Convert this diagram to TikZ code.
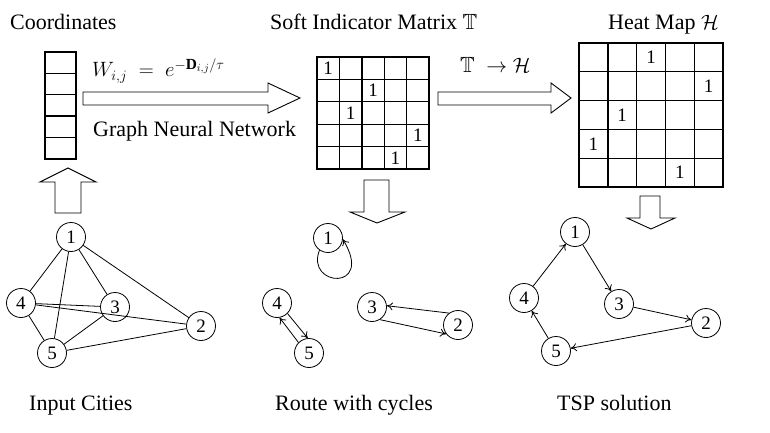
\documentclass[tikz,border=0pt]{standalone}
\usepackage{amssymb}
\usepackage{fontspec}
\setmainfont{Liberation Serif}
\usetikzlibrary{arrows.meta}
\begin{document}
\begin{tikzpicture}[x=1pt,y=-1pt,
  every node/.style={font=\fontsize{22}{26}\selectfont, inner sep=0pt},
  city/.style={draw, circle, line width=0.8pt, minimum size=29pt, inner sep=0pt, font=\fontsize{19}{22}\selectfont},
  cellC/.style={minimum width=31pt, minimum height=21.4pt},
  cellT/.style={minimum size=22.4pt, font=\fontsize{19}{22}\selectfont},
  cellH/.style={minimum size=28.8pt, font=\fontsize{19}{22}\selectfont},
  gridline/.style={line width=1.4pt, line cap=rect},
  blockarrow/.style={draw, line width=0.9pt, line join=miter},
  edge/.style={line width=0.8pt},
  arr/.style={edge, -{To[length=6pt,width=8pt]}}]
\useasboundingbox (0,0) rectangle (770,433);

% titles
\node[anchor=base west] (tcoord) at (10,30) {Coordinates};
\node[anchor=base west] (tsoft) at (270,30) {Soft Indicator Matrix $\mathbb{T}$};
\node[anchor=base west] (theat) at (608,30) {Heat Map $\mathcal{H}$};

% coordinate vector
\foreach \k in {1,...,5}
  \node[cellC] (c\k) at (60.5, 52+10.7+21.4*\k-21.4) {};
\draw[gridline] (45,52) rectangle (76,159);
\foreach \k in {1,...,4}
  \draw[gridline] (45,52+21.4*\k) -- (76,52+21.4*\k);

% soft indicator matrix
\foreach \r in {1,...,5}
  \foreach \c in {1,...,5}
    \node[cellT] (t\r\c) at (317+11.2+22.4*\c-22.4, 57+11.2+22.4*\r-22.4) {};
\draw[gridline] (317,57) rectangle (429,169);
\foreach \k in {1,...,4}{
  \draw[gridline] (317+22.4*\k,57) -- (317+22.4*\k,169);
  \draw[gridline] (317,57+22.4*\k) -- (429,57+22.4*\k);
}
\foreach \r/\c in {1/1,2/3,3/2,4/5,5/4}
  \node[font=\fontsize{19}{22}\selectfont] at (t\r\c) {1};

% heat map
\foreach \r in {1,...,5}
  \foreach \c in {1,...,5}
    \node[cellH] (h\r\c) at (579+14.4+28.8*\c-28.8, 43+14.4+28.8*\r-28.8) {};
\draw[gridline] (579,43) rectangle (723,187);
\foreach \k in {1,...,4}{
  \draw[gridline] (579+28.8*\k,43) -- (579+28.8*\k,187);
  \draw[gridline] (579,43+28.8*\k) -- (723,43+28.8*\k);
}
\foreach \r/\c in {1/3,2/5,3/2,4/1,5/4}
  \node[font=\fontsize{19}{22}\selectfont] at (h\r\c) {1};

% block arrows
\draw[blockarrow] (83,92) -- (268,92) -- (268,83) -- (300,98) -- (268,113) -- (268,105) -- (83,105) -- cycle;
\draw[blockarrow] (438,92) -- (551,92) -- (551,83) -- (571,98) -- (551,113) -- (551,105) -- (438,105) -- cycle;
\draw[blockarrow] (55,213) -- (55,182) -- (40,182) -- (68,168) -- (96,182) -- (81,182) -- (81,213) -- cycle;
\draw[blockarrow] (364,180) -- (364,212) -- (350,212) -- (377,223) -- (405,212) -- (389,212) -- (389,180) -- cycle;
\draw[blockarrow] (640,196) -- (640,218) -- (627,218) -- (651,229) -- (675,218) -- (660,218) -- (660,196) -- cycle;

% arrow labels
\node[anchor=base west] (lw) at (92,77) {$W_{i,j} \;=\; e^{-\mathbf{D}_{i,j}/\tau}$};
\node[anchor=base west] (lg) at (93,136) {Graph Neural Network};
\node[anchor=base west] (lt) at (460,73) {$\mathbb{T}\;\rightarrow\mathcal{H}$};

% input cities
\node[city] (a1) at (71,237) {1};
\node[city] (a4) at (21,303) {4};
\node[city] (a3) at (115,307) {3};
\node[city] (a2) at (201,326) {2};
\node[city] (a5) at (52,353) {5};
\foreach \u/\v in {1/4,1/5,1/3,1/2,4/3,4/2,4/5,5/3,5/2}
  \draw[edge] (a\u) -- (a\v);

% route with cycles
\node[city] (r1) at (328,238) {1};
\node[city] (r4) at (277,303) {4};
\node[city] (r5) at (309,353) {5};
\node[city] (r3) at (372,307) {3};
\node[city] (r2) at (458,325) {2};
\draw[arr] (r1.235) .. controls (305,287) and (375,292) .. (r1.-5);
\draw[arr] (r4.-45) -- (r5.95);
\draw[arr] (r5.135) -- (r4.-80);
\draw[arr] (r2.127) -- (r3.5);
\draw[arr] (r3.-58) -- (r2.-143);

% TSP solution
\node[city] (s1) at (575,232) {1};
\node[city] (s4) at (524,298) {4};
\node[city] (s3) at (619,304) {3};
\node[city] (s2) at (706,323) {2};
\node[city] (s5) at (556,351) {5};
\draw[arr] (s1) -- (s3);
\draw[arr] (s3) -- (s2);
\draw[arr] (s2) -- (s5);
\draw[arr] (s5) -- (s4);
\draw[arr] (s4) -- (s1);

% bottom labels
\node[anchor=base west] (bl1) at (29,410) {Input Cities};
\node[anchor=base west] (bl2) at (275,410) {Route with cycles};
\node[anchor=base west] (bl3) at (557,410) {TSP solution};
\end{tikzpicture}
\end{document}
